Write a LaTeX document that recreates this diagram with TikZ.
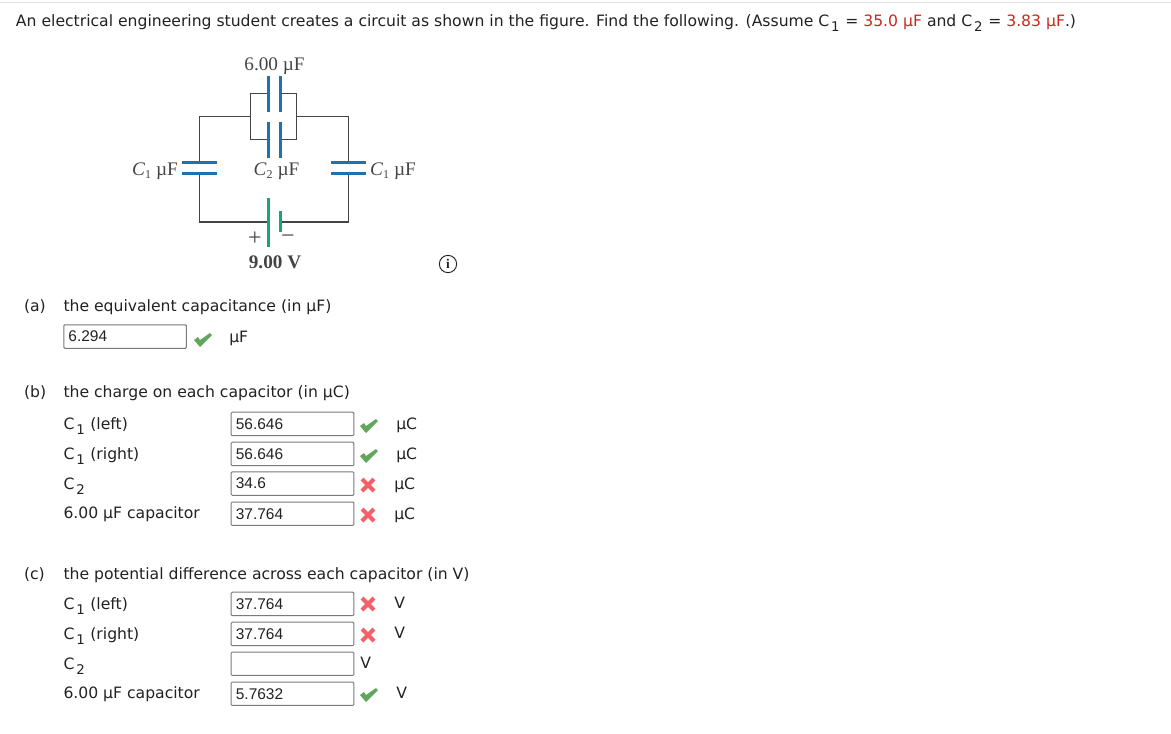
\documentclass[tikz,border=0pt]{standalone}
\usepackage{fontspec}
\setmainfont{DejaVu Sans}
\newfontfamily\fieldfont{Liberation Sans}
\newfontfamily\figfont{Liberation Serif}
\usetikzlibrary{calc}
\definecolor{capblue}{HTML}{1F72B0}
\definecolor{batgreen}{HTML}{16A874}
\definecolor{wiregray}{HTML}{444444}
\definecolor{boxgray}{HTML}{7A7A7A}
\definecolor{valred}{HTML}{C8281E}
\definecolor{okgreen}{HTML}{62A65E}
\definecolor{badred}{HTML}{F2606A}
\definecolor{txt}{HTML}{222222}
\newcommand{\Csub}[1]{C\kern1.4pt\raisebox{-4.4pt}{\fontsize{10}{12}\selectfont #1}\kern0.5pt\relax}
\newcommand{\figC}[1]{\textit{C}\raisebox{-2.6pt}{\fontsize{9}{11}\selectfont #1}}
\newcommand{\fv}[1]{\kern1.5pt\relax #1}
\tikzset{
  x=0.75pt,y=-0.75pt,
  wire/.style={draw=wiregray,line width=0.9pt},
  capplate/.style={draw=capblue,line width=1.9pt},
  batplate/.style={draw=batgreen,line width=1.9pt},
  body/.style={anchor=base west,inner sep=0pt,outer sep=0pt,text=txt,font=\fontsize{11.72}{14}\selectfont},
  figlabel/.style={inner sep=0pt,text=wiregray,font=\figfont\fontsize{14.4}{17}\selectfont},
  signlabel/.style={inner sep=0pt,text=wiregray,font=\figfont\fontsize{18}{20}\selectfont},
  field/.style={draw=boxgray,line width=0.75pt,rounded corners=0.8pt,anchor=north west,inner sep=0pt,minimum width=92pt,minimum height=17.6pt,text=txt,font=\fieldfont\fontsize{11.6}{14}\selectfont,align=left,text width=88pt},
  unit/.style={anchor=base west,inner sep=0pt,text=txt,font=\fontsize{11.72}{14}\selectfont},
  okmark/.pic={\fill[okgreen] (-9,0)--(-5,-3)--(-3,0)--(7,-7)--(9,-5)--(-3,7)--cycle;},
  badmark/.pic={\draw[badred,line width=3pt] (-6,-6)--(6,6) (-6,6)--(6,-6);}
}
\begin{document}
\begin{tikzpicture}
\useasboundingbox (0,0) rectangle (1171,733);
\fill[white] (0,0) rectangle (1171,733);
\fill[black!12] (0,1.5) rectangle (1171,3);

% heading
\node[body] (head) at (16,26) {An electrical engineering student creates a circuit as shown in the figure. Find the following. (Assume \Csub{1} = \textcolor{valred}{35.0 µF} and \Csub{2} = \textcolor{valred}{3.83 µF}.)};

% circuit
\coordinate (tl) at (199.3,116.7);
\coordinate (tr) at (348.3,116.7);
\coordinate (bl) at (199.3,222);
\coordinate (br) at (348.3,222);
\coordinate (pl) at (250.7,116.7);
\coordinate (pr) at (296.7,116.7);
\coordinate (c1lt) at (199.3,162.7);
\coordinate (c1lb) at (199.3,173.7);
\coordinate (c1rt) at (348.3,162.7);
\coordinate (c1rb) at (348.3,173.7);
\coordinate (batp) at (268.3,222);
\coordinate (batn) at (280.3,222);
\draw[wire] (c1lt) -- (tl) -- (pl) (pr) -- (tr) -- (c1rt);
\draw[wire] (c1lb) -- (bl) -- (batp) (batn) -- (br) -- (c1rb);
\draw[wire] (268.3,93.3) -- (250.7,93.3) -- (250.7,139.3) -- (268.3,139.3);
\draw[wire] (280.3,93.3) -- (296.7,93.3) -- (296.7,139.3) -- (280.3,139.3);
\draw[capplate] (268.3,76) -- (268.3,112);
\draw[capplate] (280.3,76) -- (280.3,112);
\draw[capplate] (268.3,122) -- (268.3,158);
\draw[capplate] (280.3,122) -- (280.3,158);
\draw[capplate] (182,162.7) -- (216.7,162.7);
\draw[capplate] (182,173.7) -- (216.7,173.7);
\draw[capplate] (331,162.7) -- (365.7,162.7);
\draw[capplate] (331,173.7) -- (365.7,173.7);
\draw[batplate] (268.3,197.7) -- (268.3,246.7);
\draw[batplate] (280.3,211) -- (280.3,232);
\node[figlabel] (lab6) at (274.5,66) {6.00 µF};
\node[figlabel] (labc1l) at (155,171) {\figC{1} µF};
\node[figlabel] (labc2) at (276.5,171) {\figC{2} µF};
\node[figlabel] (labc1r) at (393,171) {\figC{1} µF};
\node[signlabel] (labplus) at (255,239) {+};
\node[signlabel] (labminus) at (288,239) {−};
\node[figlabel] (labv) at (275,262) {\textbf{9.00 V}};

% info icon
\node[draw=txt,circle,line width=0.7pt,minimum size=13pt,inner sep=0pt,font=\figfont\bfseries\fontsize{10}{11}\selectfont,text=txt] (info) at (448,264) {i};

% part a
\node[body] (pa) at (24,311) {(a)};
\node[body] (pat) at (63.5,311) {the equivalent capacitance (in µF)};
\node[field,minimum width=92pt] (fa) at (63.3,324.3) {\fv{6.294}};
\pic at (203,340) {okmark};
\node[unit] (ua) at (229,342) {µF};

% part b
\node[body] (pb) at (24,397) {(b)};
\node[body] (pbt) at (63.5,397) {the charge on each capacitor (in µC)};
\node[body] (b1) at (63.5,429) {\Csub{1} (left)};
\node[body] (b2) at (63.5,459) {\Csub{1} (right)};
\node[body] (b3) at (63.5,489) {\Csub{2}};
\node[body] (b4) at (63.5,518) {6.00 µF capacitor};
\node[field] (fb1) at (230.7,411.7) {\fv{56.646}};
\node[field] (fb2) at (230.7,441.7) {\fv{56.646}};
\node[field] (fb3) at (230.7,471.3) {\fv{34.6}};
\node[field] (fb4) at (230.7,501.5) {\fv{37.764}};
\pic at (369,426) {okmark};
\pic at (369,456) {okmark};
\pic at (368,485) {badmark};
\pic at (368,515) {badmark};
\node[unit] (ub1) at (396,429) {µC};
\node[unit] (ub2) at (396,459) {µC};
\node[unit] (ub3) at (394,489) {µC};
\node[unit] (ub4) at (394,519) {µC};

% part c
\node[body] (pc) at (24,579) {(c)};
\node[body] (pct) at (63.5,579) {the potential difference across each capacitor (in V)};
\node[body] (c1) at (63.5,609) {\Csub{1} (left)};
\node[body] (c2) at (63.5,639) {\Csub{1} (right)};
\node[body] (c3) at (63.5,669) {\Csub{2}};
\node[body] (c4) at (63.5,698) {6.00 µF capacitor};
\node[field] (fc1) at (230.7,591.7) {\fv{37.764}};
\node[field] (fc2) at (230.7,621.7) {\fv{37.764}};
\node[field] (fc3) at (230.7,651.5) {\mbox{}};
\node[field] (fc4) at (230.7,681.5) {\fv{5.7632}};
\pic at (368,604) {badmark};
\pic at (368,635) {badmark};
\pic at (369,695) {okmark};
\node[unit] (uc1) at (394,608) {V};
\node[unit] (uc2) at (394,638) {V};
\node[unit] (uc3) at (360,668) {V};
\node[unit] (uc4) at (396,698) {V};
\end{tikzpicture}
\end{document}
